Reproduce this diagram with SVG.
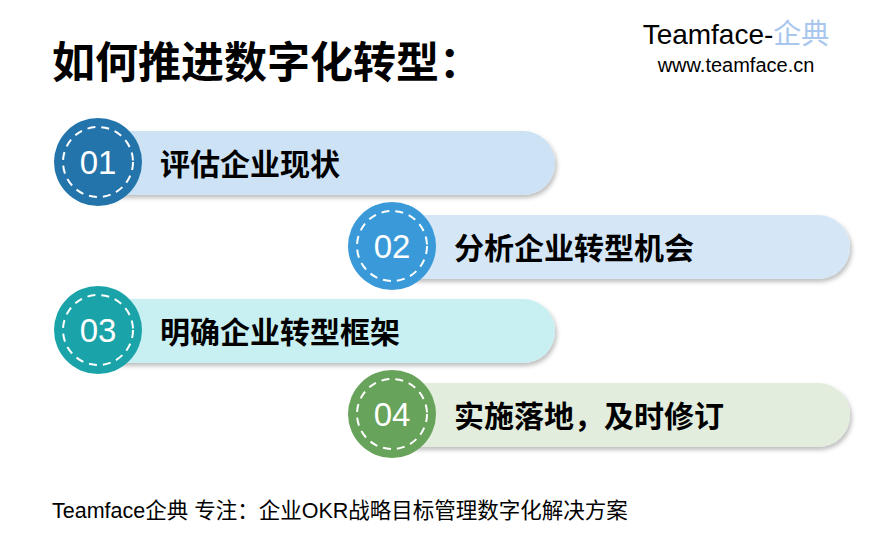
<svg xmlns="http://www.w3.org/2000/svg" width="888" height="539" viewBox="0 0 888 539">
<defs>
<filter id="sh" x="-10%" y="-20%" width="130%" height="150%"><feDropShadow dx="2" dy="3" stdDeviation="2" flood-color="#000" flood-opacity="0.25"/></filter>
</defs>
<style>
.t{font-family:"Liberation Sans","Noto Sans CJK SC",sans-serif}
.lab{font-family:"Noto Sans CJK SC",sans-serif;font-weight:bold;font-size:30px;fill:#000}
.num{font-family:"Liberation Sans",sans-serif;font-size:33px;fill:#fff}
.dash{fill:none;stroke:#fff;stroke-width:2;stroke-dasharray:8 6}
</style>
<rect width="888" height="539" fill="#fff"/>
<text x="52" y="78" style="font-family:'Noto Sans CJK SC',sans-serif;font-weight:bold;font-size:43px">如何推进数字化转型：</text>
<text x="736" y="44" text-anchor="middle" class="t" font-size="28">Teamface-<tspan fill="#A9C7EE">企典</tspan></text>
<text x="736" y="72" text-anchor="middle" class="t" font-size="20">www.teamface.cn</text>
<g id="n1">
<rect x="80" y="131" width="475" height="64" rx="32" fill="#CDE3F5" filter="url(#sh)"/>
<circle cx="98" cy="162" r="44" fill="#2474AC"/>
<circle cx="98" cy="162" r="35" class="dash"/>
<text x="98" y="174" text-anchor="middle" class="num">01</text>
<text x="160" y="175" class="lab">评估企业现状</text>
</g>
<g id="n2">
<rect x="374" y="215" width="476" height="64" rx="32" fill="#D5E7F7" filter="url(#sh)"/>
<circle cx="392" cy="246" r="44" fill="#3A9AD9"/>
<circle cx="392" cy="246" r="35" class="dash"/>
<text x="392" y="258" text-anchor="middle" class="num">02</text>
<text x="454" y="259" class="lab">分析企业转型机会</text>
</g>
<g id="n3">
<rect x="80" y="299" width="475" height="64" rx="32" fill="#C8F0F2" filter="url(#sh)"/>
<circle cx="98" cy="330" r="44" fill="#1AA3A8"/>
<circle cx="98" cy="330" r="35" class="dash"/>
<text x="98" y="342" text-anchor="middle" class="num">03</text>
<text x="160" y="343" class="lab">明确企业转型框架</text>
</g>
<g id="n4">
<rect x="374" y="383" width="476" height="64" rx="32" fill="#E2EDDD" filter="url(#sh)"/>
<circle cx="392" cy="414" r="44" fill="#67A35A"/>
<circle cx="392" cy="414" r="35" class="dash"/>
<text x="392" y="426" text-anchor="middle" class="num">04</text>
<text x="454" y="427" class="lab">实施落地，及时修订</text>
</g>
<g id="connectors"/>
<text x="52" y="518" class="t" font-size="21.5">Teamface企典 专注：企业OKR战略目标管理数字化解决方案</text>
</svg>
